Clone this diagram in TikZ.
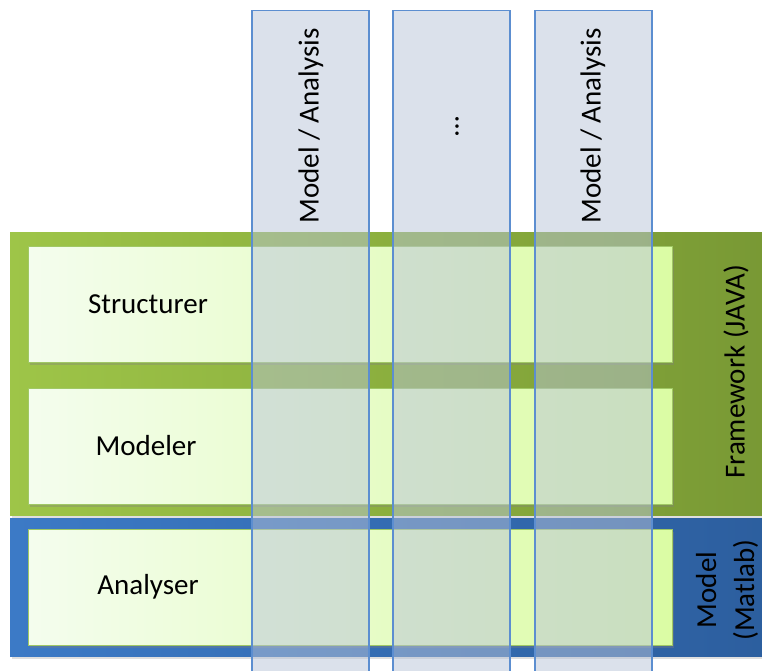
\documentclass[tikz,border=0pt]{standalone}
\usepackage{fontspec}
\setmainfont{Carlito}
\usetikzlibrary{shadows}
\definecolor{fwleft}{RGB}{158,197,72}
\definecolor{fwright}{RGB}{120,152,52}
\definecolor{mlleft}{RGB}{60,122,198}
\definecolor{mlright}{RGB}{44,94,158}
\definecolor{boxleft}{RGB}{244,253,238}
\definecolor{boxright}{RGB}{219,252,164}
\definecolor{boxedge}{RGB}{160,200,100}
\definecolor{colfill}{RGB}{185,196,216}
\definecolor{coledge}{RGB}{92,142,208}
\tikzset{
  layer/.style={inner sep=0pt, draw=none,
    drop shadow={shadow xshift=1.5pt, shadow yshift=-2.5pt, opacity=0.25}},
  compbox/.style={minimum width=644pt, minimum height=116pt, inner sep=0pt,
    left color=boxleft, right color=boxright, draw=boxedge, line width=0.6pt,
    drop shadow={shadow xshift=2pt, shadow yshift=-3pt, opacity=0.35}},
  boxlabel/.style={font=\fontsize{29}{34}\selectfont, text=black},
  column/.style={minimum width=117pt, minimum height=700pt, inner sep=0pt,
    fill=colfill, fill opacity=0.5, draw=coledge, line width=1.2pt, draw opacity=1},
  collabel/.style={font=\fontsize{29}{34}\selectfont, rotate=90, text=black},
  sidelabel/.style={font=\fontsize{29}{38}\selectfont, rotate=90, align=center, text=black}
}
\begin{document}
\begin{tikzpicture}[x=1pt, y=-1pt]
  \clip (0,0) rectangle (762,671);
  \fill[white] (0,0) rectangle (762,671);

  % platform layers
  \path[layer, left color=fwleft, right color=fwright] (10,232) rectangle (775,515);
  \path[layer, left color=mlleft, right color=mlright] (10,518) rectangle (775,656);

  % components inside the layers
  \node[compbox] (structurer) at (350,304) {};
  \node[compbox] (modeler)    at (350,446) {};
  \node[compbox] (analyser)   at (350,587) {};
  \node[boxlabel] (tstruct) at (148,304) {Structurer};
  \node[boxlabel] (tmodel)  at (146,446) {Modeler};
  \node[boxlabel] (tanal)   at (148,587) {Analyser};

  % layer captions
  \node[sidelabel] (fwlabel) at (736,372) {Framework (JAVA)};
  \node[sidelabel] (mllabel) at (727,590) {Model\\(Matlab)};

  % vertical model / analysis slices
  \node[column, anchor=north] (col1) at (310.5,10) {};
  \node[column, anchor=north] (col2) at (451.5,10) {};
  \node[column, anchor=north] (col3) at (593.5,10) {};
  \node[collabel] (c1text) at (311,126) {Model / Analysis};
  \node[collabel] (c2text) at (457,126) {…};
  \node[collabel] (c3text) at (593,126) {Model / Analysis};
\end{tikzpicture}
\end{document}
